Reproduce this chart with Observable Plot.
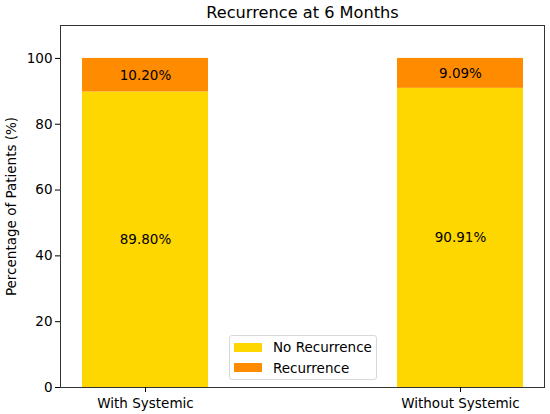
<!DOCTYPE html>
<html>
<head>
<meta charset="utf-8">
<script src="https://cdn.jsdelivr.net/npm/d3@7"></script>
<script src="https://cdn.jsdelivr.net/npm/@observablehq/plot@0.6"></script>
<style>
  body { margin: 0; background: #fff; font-family: "DejaVu Sans", sans-serif; }
  #chart { position: relative; width: 550px; height: 414px; }
  .legend {
    position: absolute; left: 229px; top: 335px; width: 146px; height: 43px;
    border: 1px solid #d8d8d8; border-radius: 3px; background: rgba(255,255,255,0.8);
    font-size: 13.5px; line-height: 16px; color: #000;
  }
  .legend .row { position: absolute; left: 4px; display: flex; align-items: center; }
  .legend .sw { width: 28px; height: 9px; margin-right: 11px; }
</style>
</head>
<body>
<div id="chart"></div>
<script>
// values
const groups = ["With Systemic", "Without Systemic"]
const statuses = ["No Recurrence", "Recurrence"]
const noRecurrence = [89.80, 90.91]
const recurrence = [10.20, 9.09]
const colors = ["#FFD700", "#FF8C00"]

const rows = []
groups.forEach((g, i) => {
  rows.push({group: g, status: statuses[0], value: noRecurrence[i]})
  rows.push({group: g, status: statuses[1], value: recurrence[i]})
})

const chart = Plot.plot({
  width: 550,
  height: 414,
  marginLeft: 60,
  marginRight: 6,
  marginTop: 25,
  marginBottom: 27,
  style: {fontFamily: "DejaVu Sans, sans-serif", fontSize: "13.5px", color: "#000"},
  x: {domain: groups, paddingInner: 0.6, paddingOuter: 0.068, label: null},
  y: {domain: [0, 110], label: null},
  color: {domain: statuses, range: colors},
  marks: [
    Plot.barY(rows, {x: "group", y: "value", fill: "status"}),
    Plot.text(rows, Plot.stackY({
      x: "group", y: "value", z: "status",
      text: d => d.value.toFixed(2) + "%",
      fill: "#000", fontSize: 13.5
    })),
    Plot.frame({stroke: "#333"}),
    Plot.axisY({ticks: [0, 20, 40, 60, 80, 100], tickSize: 5, tickPadding: 3, fontSize: 13.5,
      label: "Percentage of Patients (%)", labelAnchor: "center", labelArrow: "none", labelOffset: 54}),
    Plot.axisX({tickSize: 5, tickPadding: 6, fontSize: 13.5}),
    Plot.text(["Recurrence at 6 Months"], {frameAnchor: "top", lineAnchor: "middle", dy: -13, fontSize: 16.2, fill: "#000"})
  ]
})

const root = document.getElementById("chart")
root.append(chart)

// legend drawn over the lower middle of the frame, like matplotlib's "best" spot
const legend = document.createElement("div")
legend.className = "legend"
statuses.forEach((s, i) => {
  const row = document.createElement("div")
  row.className = "row"
  row.style.top = (3 + i * 20.5) + "px"
  row.innerHTML = `<span class="sw" style="background:${colors[i]}"></span><span>${s}</span>`
  legend.append(row)
})
root.append(legend)
</script>
</body>
</html>
